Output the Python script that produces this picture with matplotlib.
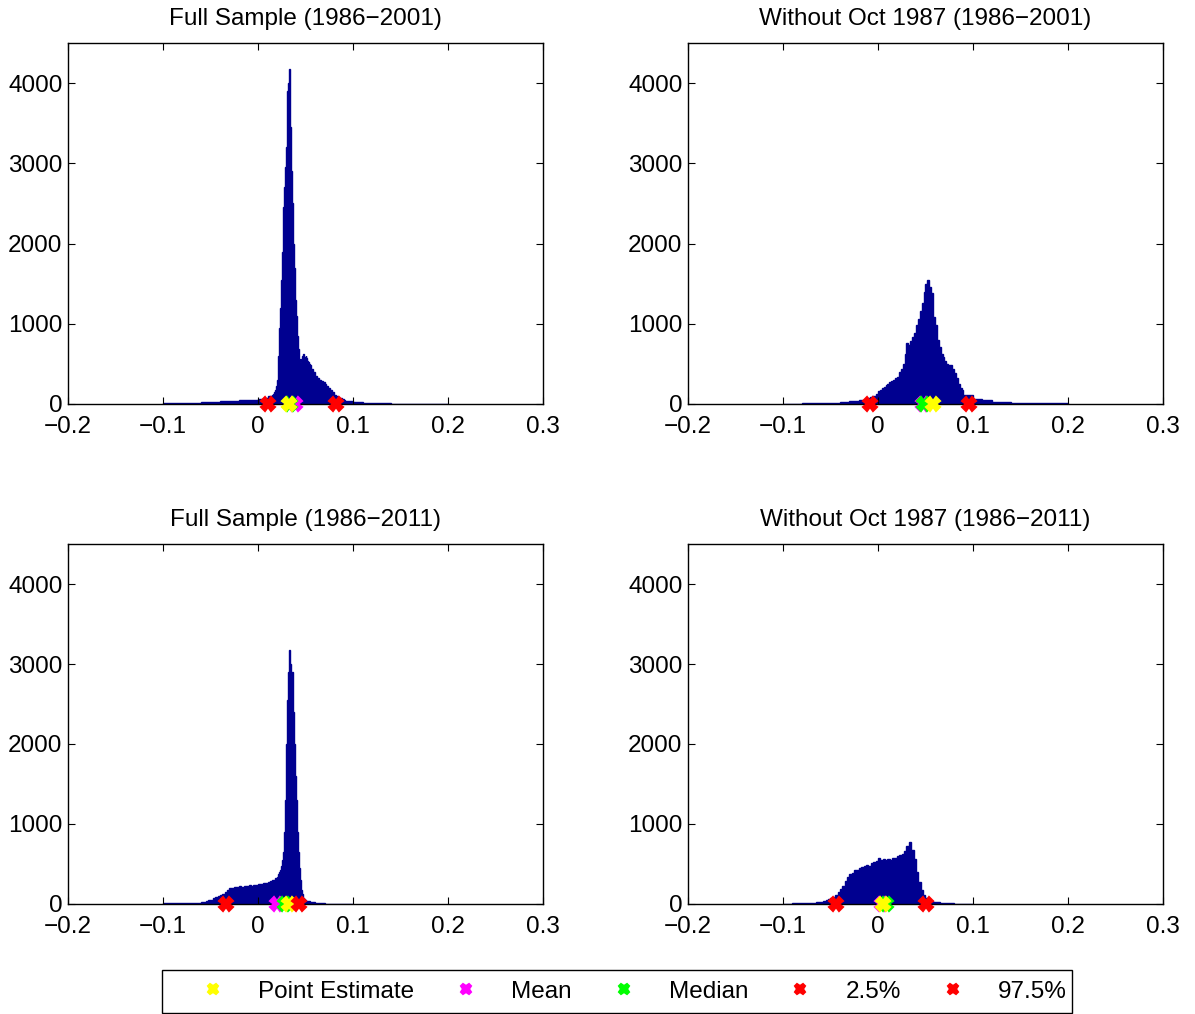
import numpy as np
import matplotlib
matplotlib.use("Agg")
import matplotlib.pyplot as plt
from matplotlib.patches import Rectangle

plt.rcParams['font.family'] = ['Liberation Sans', 'DejaVu Sans']


def grid(a, b, s):
    # bin edges on a regular grid from a to b
    return list(np.round(np.arange(a, b + s / 2, s), 5))


titles = ["Full Sample (1986\u22122001)", "Without Oct 1987 (1986\u22122001)",
          "Full Sample (1986\u22122011)", "Without Oct 1987 (1986\u22122011)"]

# --- panel 1: full sample 1986-2001
edges1 = ([-0.10, -0.08, -0.06, -0.04, -0.02, -0.01, 0.0, 0.005, 0.010]
          + grid(0.015, 0.056, 0.001) + grid(0.058, 0.092, 0.002)
          + [0.10, 0.11, 0.12, 0.14, 0.20])
counts1 = [8, 15, 22, 32, 45, 55, 65, 80, 100,
           110, 130, 150, 180, 220, 300, 600, 950, 1200, 1550,
           1900, 2450, 2700, 2950, 3200, 3450, 3900, 4000, 4170, 3450,
           2900, 2500, 2000, 1700, 1300, 1100, 850, 680, 560, 520,
           560, 600, 620, 560, 590, 600, 570, 540, 520, 500, 480,
           440, 400, 350, 320, 300, 285, 270, 255, 230, 200, 170, 145, 115, 95, 80, 70, 60, 50,
           40, 25, 15, 8, 3]

# --- panel 2: without Oct 1987, 1986-2001
edges2 = ([-0.10, -0.08, -0.06, -0.04, -0.03] + grid(-0.02, 0.09, 0.002)
          + [0.10, 0.11, 0.12, 0.14, 0.16, 0.20])
counts2 = [5, 8, 12, 22, 35,
           45, 50, 55, 62, 70, 80, 88, 95, 105, 130,
           160, 180, 200, 215, 235, 255, 270, 290, 305, 320,
           340, 400, 440, 500, 620, 760, 740, 790, 830, 890,
           980, 1060, 1160, 1260, 1400, 1500, 1550, 1460, 1380, 1080,
           980, 800, 710, 620, 580, 540, 500, 490, 480, 430,
           380, 320, 250, 205, 170,
           115, 65, 45, 30, 15, 6]

# --- panel 3: full sample 1986-2011
edges3 = ([-0.10, -0.08, -0.07, -0.06] + grid(-0.055, 0.0175, 0.0025)
          + grid(0.020, 0.050, 0.001) + [0.055, 0.06, 0.07, 0.08, 0.10])
counts3 = [8, 10, 14, 22,
           35, 45, 55, 70, 85, 100, 115, 130, 150, 170,
           195, 205, 215, 210, 220, 215, 225, 220, 235, 230,
           240, 235, 245, 255, 260, 265, 275, 285, 300, 320,
           340, 370, 400, 430, 480, 550, 650, 900, 1300, 2000,
           2300, 2550, 2900, 3180, 3000, 2850, 2900, 2400, 2000, 1600,
           1300, 900, 650, 450, 300, 180, 120, 80, 60, 45,
           32, 22, 12, 6, 3]

# --- panel 4: without Oct 1987, 1986-2011
edges4 = ([-0.10, -0.09, -0.08, -0.07] + grid(-0.065, 0.06, 0.0025)
          + [0.065, 0.07, 0.08, 0.10])
counts4 = [5, 7, 10, 15,
           20, 25, 30, 38, 48, 58, 70, 90, 115, 145,
           185, 230, 290, 340, 370, 390, 420, 430, 450, 465,
           470, 490, 480, 510, 520, 540, 580, 545, 560, 550,
           565, 555, 570, 580, 600, 615, 630, 660, 720, 770,
           680, 560, 400, 280, 170, 110, 75, 55, 40, 30,
           22, 15, 8, 4]

# summary statistics per panel
point_est = [0.0326, 0.0582, 0.0330, 0.0056]
mean_val = [0.0385, 0.0470, 0.0197, 0.0045]
median_val = [0.0340, 0.0488, 0.0284, 0.0084]
lo_val = [0.0105, -0.0084, -0.0337, -0.0442]
hi_val = [0.0821, 0.0958, 0.0435, 0.0505]

all_edges = [edges1, edges2, edges3, edges4]
all_counts = [counts1, counts2, counts3, counts4]

navy = '#000090'
fs = 17.5
fig = plt.figure(figsize=(11.95, 10.14), dpi=100)
pos = [[0.0569, 0.6016, 0.3975, 0.356], [0.5757, 0.6016, 0.3975, 0.356],
       [0.0569, 0.1085, 0.3975, 0.355], [0.5757, 0.1085, 0.3975, 0.355]]

for i in range(4):
    ax = fig.add_axes(pos[i])
    ax.stairs(all_counts[i], all_edges[i], fill=True, color=navy,
              edgecolor=navy, linewidth=1)
    mk = dict(ms=10, mew=1.5, clip_on=False)
    ax.plot(mean_val[i], 0, 'X', color='#ff00ff', mec='#ff00ff', zorder=5, label='Mean', **mk)
    ax.plot(median_val[i], 0, 'X', color='#00ff00', mec='#00ff00', zorder=6, label='Median', **mk)
    ax.plot(point_est[i], 0, 'X', color='#ffff00', mec='#ffff00', zorder=7, label='Point Estimate', **mk)
    ax.plot(lo_val[i], 0, 'X', color='#ff0000', mec='#ff0000', zorder=8, label='2.5%', **mk)
    ax.plot(hi_val[i], 0, 'X', color='#ff0000', mec='#ff0000', zorder=8, label='97.5%', **mk)
    ax.set_xlim(-0.2, 0.3)
    ax.set_ylim(0, 4500)
    ax.set_xticks([-0.2, -0.1, 0, 0.1, 0.2, 0.3])
    ax.set_xticklabels(['\u22120.2', '\u22120.1', '0', '0.1', '0.2', '0.3'])
    ax.set_yticks([0, 1000, 2000, 3000, 4000])
    ax.tick_params(direction='in', top=True, right=True, length=5, labelsize=fs, pad=4)
    ax.tick_params(axis='x', pad=9)
    ax.set_title(titles[i], fontsize=fs, pad=13)
    for s in ax.spines.values():
        s.set_linewidth(1)

handles, labels = ax.get_legend_handles_labels()
order = [2, 0, 1, 3, 4]
leg = fig.legend([handles[k] for k in order], [labels[k] for k in order],
                 loc='center left', bbox_to_anchor=(184 / 1195, 1 - 991.5 / 1014),
                 borderaxespad=0, ncol=5, fontsize=fs, frameon=False,
                 markerscale=0.75, handlelength=1.6, handletextpad=1.05,
                 columnspacing=1.34, borderpad=0.4)
fig.patches.append(Rectangle((162 / 1195, 1 - 1013 / 1014), 910 / 1195, 43 / 1014,
                             transform=fig.transFigure, fill=False,
                             edgecolor='black', linewidth=1))

fig.savefig('out.png', dpi=100)
